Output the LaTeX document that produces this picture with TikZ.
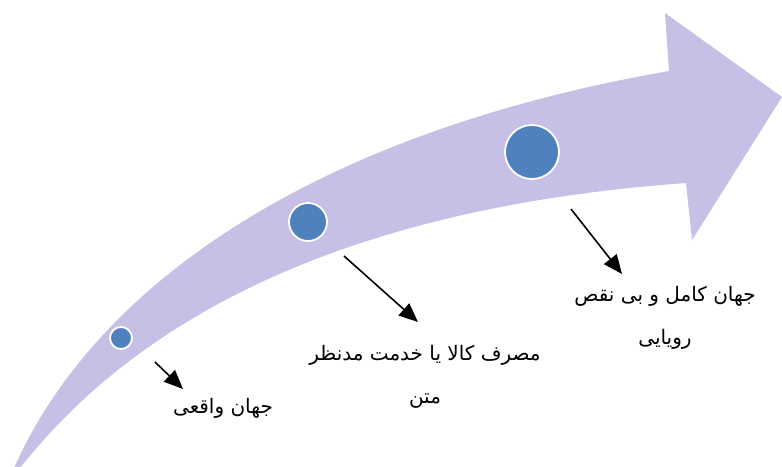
\documentclass[tikz,border=0pt]{standalone}
\usepackage{fontspec}
\usetikzlibrary{arrows.meta}
\TeXXeTstate=1
\newfontfamily\arabicfont[Script=Arabic]{DejaVu Sans}
\definecolor{shaftcol}{RGB}{198,191,230}
\definecolor{dotcol}{RGB}{79,129,189}
\tikzset{
  dot/.style={circle, fill=dotcol, draw=white, line width=1.8pt, inner sep=0pt},
  pointer/.style={line width=1.6pt, -{Triangle[length=19pt,width=16pt]}},
  txt/.style={font=\arabicfont\fontsize{20}{43}\selectfont, align=center, inner sep=0pt}
}
\begin{document}
\begin{tikzpicture}[x=1pt,y=-1pt]
\useasboundingbox (0,0) rectangle (782,466);
% big curved arrow
\fill[shaftcol] (14,468) .. controls (100,275) and (330,130) .. (669,71)
  -- (665,13) -- (782,97) -- (692,240) -- (686,183)
  .. controls (450,200) and (180,265) .. (20,468) -- cycle;
% dots
\node[dot, minimum size=22pt] (d1) at (121,338) {};
\node[dot, minimum size=38pt] (d2) at (308,222) {};
\node[dot, minimum size=54pt] (d3) at (532,152) {};
% texts
\node[txt] (t1) at (223,408) {\beginR جهان واقعی\endR};
\node[txt] (t2) at (425,377) {\beginR مصرف کالا یا خدمت مدنظر\endR\\\beginR متن\endR};
\node[txt] (t3) at (665,318) {\beginR جهان کامل و بی نقص\endR\\\beginR رویایی\endR};
% pointers
\coordinate (a1s) at (155,362); \coordinate (a1e) at (183,389);
\coordinate (a2s) at (344,256); \coordinate (a2e) at (418,322);
\coordinate (a3s) at (571,209); \coordinate (a3e) at (622,274);
\draw[pointer] (a1s) -- (a1e);
\draw[pointer] (a2s) -- (a2e);
\draw[pointer] (a3s) -- (a3e);
\end{tikzpicture}
\end{document}
